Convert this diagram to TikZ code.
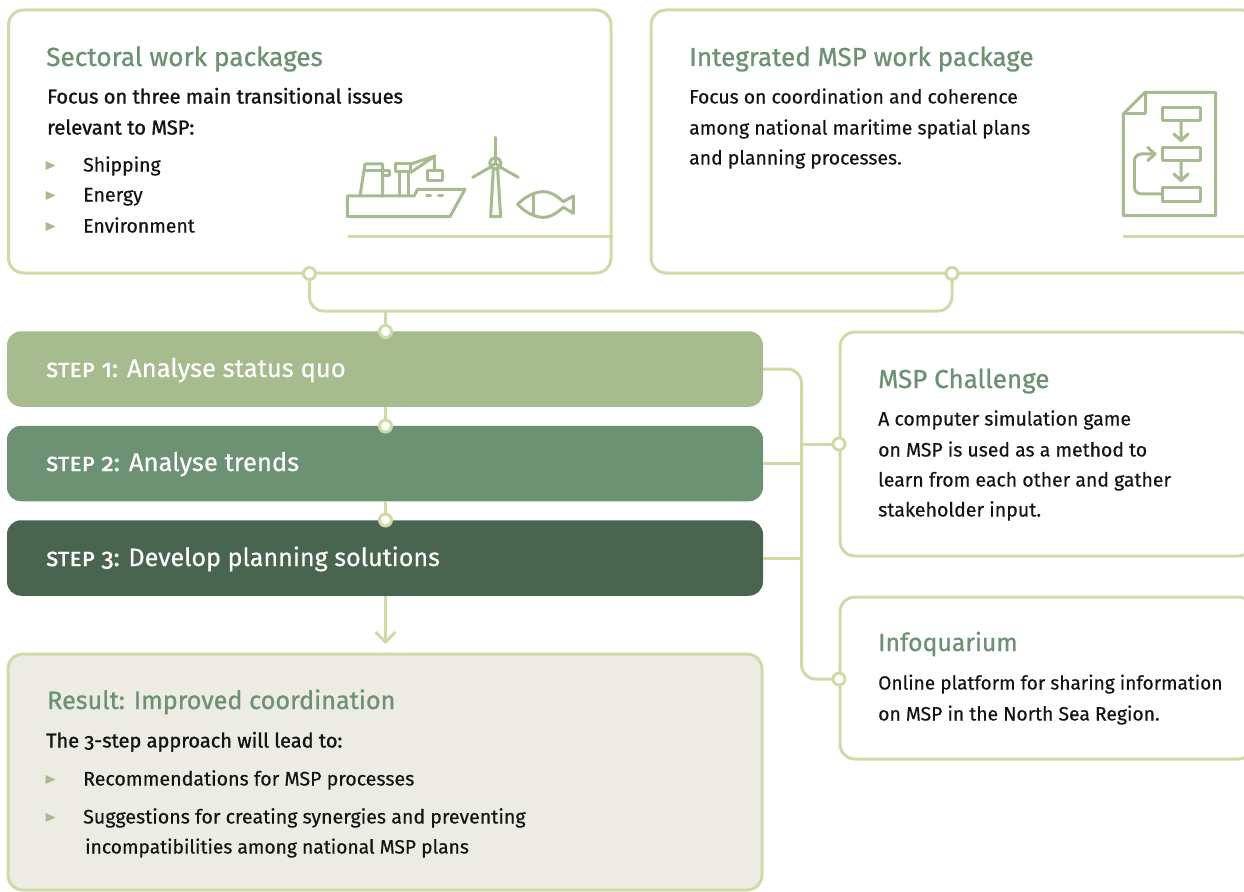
\documentclass[tikz,border=0pt]{standalone}
\usepackage{fontspec}
\setmainfont{Fira Sans}[Numbers=OldStyle,FakeBold=0.4]
\newfontfamily\smfont{Fira Sans}[Numbers=OldStyle,Letters=SmallCaps,FakeBold=1.2]
\newfontfamily\headfont{Fira Sans}[Numbers=OldStyle,FakeBold=0.9]
\newfontfamily\introfont{Fira Sans}[Numbers=OldStyle,FakeBold=1.3]
\definecolor{lineC}{HTML}{CFDBA6}
\definecolor{iconC}{HTML}{A7BC8E}
\definecolor{stepA}{HTML}{A7BC8E}
\definecolor{stepB}{HTML}{6D9273}
\definecolor{stepC}{HTML}{4A654F}
\definecolor{resC}{HTML}{ECEBE4}
\definecolor{headC}{HTML}{6D9273}
\definecolor{bodyC}{HTML}{141414}
\tikzset{
 x=1pt,y=1pt,
 panel/.style={draw=lineC,line width=3pt,fill=white,rounded corners=15pt,minimum width=#1,inner sep=0pt},
 stepbar/.style={rounded corners=14pt,minimum width=756pt,minimum height=75.5pt,inner sep=0pt,draw=none},
 conn/.style={draw=lineC,line width=3pt,rounded corners=14pt},
 dot/.style={circle,draw=lineC,fill=white,line width=3pt,minimum size=12pt,inner sep=0pt},
 head/.style={anchor=base west,inner sep=0pt,text=headC,font=\headfont\fontsize{#1}{26}\selectfont},
 head/.default=26,
 body/.style={anchor=base west,inner sep=0pt,text=bodyC,font=\fontsize{#1}{20}\selectfont},
 body/.default=19.6,
 intro/.style={anchor=base west,inner sep=0pt,text=bodyC,font=\introfont\fontsize{#1}{20}\selectfont},
 steptxt/.style={anchor=base west,inner sep=0pt,text=white,font=\fontsize{#1}{26}\selectfont},
 ico/.style={draw=iconC,line width=3pt,line join=round,line cap=round},
}
\newcommand{\bul}[2]{\fill[iconC] (#1-1.5,#2+10) -- (#1+8.5,#2+5.5) -- (#1-1.5,#2+1) -- cycle;}
\newcommand{\stp}[1]{{\smfont\fontsize{25}{25}\selectfont #1}}
\begin{document}
\begin{tikzpicture}
\useasboundingbox (0,0) rectangle (1244,-891);
\clip (0,0) rectangle (1244,-891);
% panels
\node[panel=602.5pt,minimum height=263pt] (sect) at (309.75,-141.5) {};
\node[panel=606pt,minimum height=263pt] (integ) at (954,-141.5) {};
\node[panel=413pt,minimum height=224pt] (chal) at (1046.5,-444) {};
\node[panel=413pt,minimum height=162pt] (info) at (1046.5,-678) {};
\node[panel=754pt,minimum height=236pt,fill=resC] (res) at (385,-772) {};
% step bars
\node[stepbar,fill=stepA] (s1) at (385,-369) {};
\node[stepbar,fill=stepB] (s2) at (385,-463.5) {};
\node[stepbar,fill=stepC] (s3) at (385,-558) {};
% junction dots
\node[dot] (d1) at (309.5,-273.5) {};
\node[dot] (d2) at (952,-273.5) {};
\node[dot] (d3) at (385.5,-331.5) {};
\node[dot] (d4) at (385.5,-426) {};
\node[dot] (d5) at (385.5,-520) {};
\node[dot] (d6) at (839,-444) {};
\node[dot] (d7) at (839,-679) {};
\coordinate (busTop) at (385.5,-311);
\coordinate (arrowEnd) at (385.5,-642);
\coordinate (vb) at (801.5,-369);
% connectors
\draw[conn] (d1.south) |- (busTop) -| (d2.south);
\draw[conn] (busTop) -- (d3.north);
\draw[conn] (s1.south -| d4) -- (d4.north);
\draw[conn] (s2.south -| d5) -- (d5.north);
\draw[conn] (s1.east) -- (vb) -- (vb |- d7) -- (d7.west);
\draw[conn] (vb |- d6) -- (d6.west);
\draw[conn] (s2.east) -- (vb |- s2.east);
\draw[conn] (s3.east) -- (vb |- s3.east);
\draw[conn,rounded corners=0pt] (s3.south -| arrowEnd) -- (arrowEnd);
\draw[conn,rounded corners=0pt] ([shift={(-10,10)}]arrowEnd) -- (arrowEnd) -- ([shift={(10,10)}]arrowEnd);
% texts
\node[head=26.2] (t1) at (46,-66) {Sectoral work packages};
\node[intro=20.05] (t2) at (47,-103.5) {Focus on three main transitional issues};
\node[intro=20.2] (t3) at (47,-134.5) {relevant to MSP:};
\bul{47}{-171}\node[body=19.4] (t4) at (83,-171.5) {Shipping};
\bul{47}{-201}\node[body] (t5) at (83,-201.5) {Energy};
\bul{47}{-232}\node[body=19.4] (t6) at (83,-232.5) {Environment};
\node[head] (t7) at (689,-66) {Integrated MSP work package};
\node[body=19.35] (t8) at (689,-103.5) {Focus on coordination and coherence};
\node[body=19.4] (t9) at (689,-134.5) {among national maritime spatial plans};
\node[body=19.4] (t10) at (689,-164.5) {and planning processes.};
\node[steptxt=25.6] (st1) at (46,-377) {\stp{step 1:} Analyse status quo};
\node[steptxt=25.6] (st2) at (46,-471) {\stp{step 2:} Analyse trends};
\node[steptxt=25.1] (st3) at (46,-566) {\stp{step 3:} Develop planning solutions};
\node[head] (t11) at (878,-388) {MSP Challenge};
\node[body=19.45] (t12) at (878,-425.5) {A computer simulation game};
\node[body=19.4] (t13) at (878,-456.5) {on MSP is used as a method to};
\node[body=19.45] (t14) at (878,-486.5) {learn from each other and gather};
\node[body] (t15) at (878,-516.5) {stakeholder input.};
\node[head=24.8] (t16) at (878,-651) {Infoquarium};
\node[body=19.1] (t17) at (878,-689.5) {Online platform for sharing information};
\node[body=19.3] (t18) at (878,-720.5) {on MSP in the North Sea Region.};
\node[head=25.2] (t19) at (47,-709) {Result: Improved coordination};
\node[intro=20] (t20) at (46,-747.5) {The 3-step approach will lead to:};
\bul{47}{-785}\node[body] (t21) at (83,-785.5) {Recommendations for MSP processes};
\bul{47}{-823}\node[body] (t22) at (83,-823.5) {Suggestions for creating synergies and preventing};
\node[body=19.25] (t23) at (85,-853.5) {incompatibilities among national MSP plans};
% ground lines
\draw[conn,rounded corners=0pt] (348,-236.7) -- (sect.east |- 0,-236.7);
\draw[conn,rounded corners=0pt] (1123,-236.5) -- (1244,-236.5);
% ship, turbine, fish icon
\begin{scope}[shift={(330,-120)},x=0.3333pt,y=-0.3333pt,ico]
\draw (52,228) -- (52,290) -- (360,290) -- (405,208) -- (263,208) -- (252,228) -- cycle;
\draw (90,228) -- (105,132) -- (158,132) -- (158,228);
\draw (105,152) -- (178,152) -- (178,168) -- (158,168);
\draw (208,228) -- (208,154) (235,228) -- (235,154);
\draw (197,132) rectangle (243,154);
\draw (243,132) -- (315,108) -- (243,157);
\draw (315,108) -- (315,152);
\draw (292,152) rectangle (337,183);
\draw (290,228) -- (302,228) (326,228) -- (338,228);
\draw (496,52) -- (496,114);
\draw (496,130) circle (17);
\draw (496,130) -- (496,114) (496,130) -- (482,140) (496,130) -- (510,140);
\draw (482,141) -- (428,172) (510,141) -- (565,172);
\draw (490,148) -- (482,290) -- (512,290) -- (503,148);
\draw (563,253) .. controls (590,225) and (620,215) .. (640,215) .. controls (665,215) and (685,232) .. (700,245) -- (730,228) -- (730,280) -- (700,262) .. controls (685,275) and (665,292) .. (640,292) .. controls (620,292) and (590,282) .. (563,253) -- cycle;
\draw (612,224) -- (612,284);
\end{scope}
% flowchart document icon
\begin{scope}[shift={(1100,-70)},x=0.3333pt,y=-0.3333pt,ico]
\draw (70,132) -- (135,67) -- (347,67) -- (347,437) -- (70,437) -- cycle;
\draw (135,67) -- (135,132) -- (70,132);
\draw (186,112) rectangle (302,152);
\draw (186,232) rectangle (302,272);
\draw (186,352) rectangle (302,394);
\draw (243,152) -- (243,212) (222,192) -- (243,212) -- (264,192);
\draw (243,272) -- (243,332) (222,312) -- (243,332) -- (264,312);
\draw[rounded corners=7pt] (186,372) -- (103,372) -- (103,252) -- (165,252);
\draw (143,232) -- (165,252) -- (143,272);
\end{scope}
\end{tikzpicture}
\end{document}
